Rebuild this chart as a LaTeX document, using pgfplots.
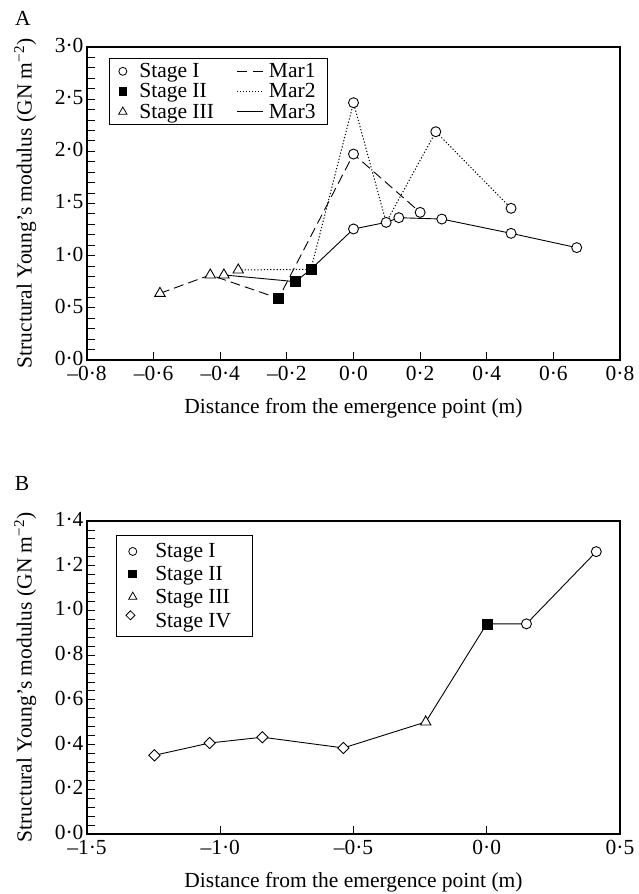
\documentclass[border=0pt]{standalone}
\usepackage{fontspec}
\setmainfont{Liberation Serif}
\usepackage{pgfplots}
\pgfplotsset{compat=1.18}
\newcommand{\fs}{\fontsize{21.5}{25}\selectfont}

\pgfplotsset{
  panel/.style={
    scale only axis, width=533pt, height=313pt,
    axis line style={line width=1.1pt},
    tick align=inside, tick pos=left,
    major tick length=8pt, minor tick length=8pt,
    tick style={line width=0.9pt, black},
    tick label style={font=\fs},
    xticklabel style={yshift=-3pt},
    yticklabel style={yshift=1.5pt},
    label style={font=\fs},
    legend style={font=\fs, draw=black, line width=1pt, inner xsep=3pt, inner ysep=4pt,
      nodes={inner sep=1pt}},
    legend cell align=left,
    xlabel={Distance from the emergence point (m)},
    ylabel={Structural Young’s modulus (GN m\textsuperscript{−2})},
    xlabel style={at={(axis description cs:0.5,-0.153)}, anchor=center},
    ylabel style={at={(axis description cs:-0.116,0.5)}, anchor=center},
    clip=false,
  },
  s1/.style={only marks, mark=*, mark size=5pt, mark options={fill=white, draw=black, line width=0.9pt}},
  s2/.style={only marks, mark=square*, mark size=5pt, mark options={fill=black, draw=black}},
  s3/.style={only marks, mark=triangle*, mark size=6pt, mark options={fill=white, draw=black, line width=0.9pt}},
  s4/.style={only marks, mark=square*, mark size=4pt, mark options={rotate=45, fill=white, draw=black, line width=0.9pt}},
  % marker legend image: mark at #1 from left, cell #2 wide
  mkleg/.style n args={3}{legend image code/.code={\path (0pt,0pt) (#2,0pt);
      \draw[black, #3] plot coordinates {(#1,0pt)};}},
  lnleg/.style={legend image code/.code={\path (-22pt,0pt) (30pt,0pt);
      \draw[black, line width=0.9pt, #1] (0pt,0pt) -- (26pt,0pt);}},
}

\begin{document}
\begin{tikzpicture}
\useasboundingbox (0pt,0pt) rectangle (638pt,-894pt);
\node[font=\fs] at (23pt,-18pt) {A};
\node[font=\fs] at (22pt,-483pt) {B};

% ---- panel A
\begin{axis}[panel,
  at={(87pt,-360pt)}, anchor=south west,
  xmin=-0.8, xmax=0.8, ymin=0, ymax=3,
  xtick={-0.8,-0.6,-0.4,-0.2,0,0.2,0.4,0.6,0.8},
  xticklabels={–0·8,–0·6,–0·4,–0·2,0·0,0·2,0·4,0·6,0·8},
  ytick={0,0.5,1,1.5,2,2.5,3},
  yticklabels={0·0,0·5,1·0,1·5,2·0,2·5,3·0},
  minor y tick num=4,
  legend columns=2,
  legend style={at={(axis description cs:0.041,0.965)}, anchor=north west,
    /tikz/row sep=2.5pt},
]
\addlegendimage{mkleg={10pt}{25pt}{mark=*, mark size=4pt, fill=white, line width=0.8pt}}
\addlegendentry{Stage I}
\addlegendimage{lnleg={dash pattern=on 10pt off 6pt}}
\addlegendentry{Mar1\hspace*{8pt}}
\addlegendimage{mkleg={10pt}{25pt}{mark=square*, mark size=3.8pt, fill=black}}
\addlegendentry{Stage II}
\addlegendimage{lnleg={dash pattern=on 1pt off 2pt}}
\addlegendentry{Mar2}
\addlegendimage{mkleg={10pt}{25pt}{mark=triangle*, mark size=4.8pt, fill=white, line width=0.8pt}}
\addlegendentry{Stage III}
\addlegendimage{lnleg={}}
\addlegendentry{Mar3}

% Mar1 (dashed)
\addplot[forget plot, black, line width=0.9pt, dash pattern=on 10pt off 5pt] coordinates {
  (-0.581,0.639) (-0.430,0.815) (-0.225,0.591) (0,1.974) (0.200,1.415)};
% Mar2 (dotted)
\addplot[forget plot, black, line width=1pt, dash pattern=on 1.2pt off 2pt] coordinates {
  (-0.346,0.863) (-0.128,0.869) (0,2.466) (0.098,1.319) (0.247,2.188) (0.473,1.454)};
% Mar3 (solid)
\addplot[forget plot, black, line width=0.9pt] coordinates {
  (-0.389,0.815) (-0.174,0.751) (-0.128,0.869) (0,1.256) (0.098,1.319)
  (0.136,1.364) (0.265,1.351) (0.473,1.214) (0.670,1.077)};

% stages
\addplot[forget plot, s3] coordinates {
  (-0.581,0.639) (-0.430,0.815) (-0.389,0.815) (-0.346,0.863)};
\addplot[forget plot, s2] coordinates {
  (-0.225,0.591) (-0.174,0.751) (-0.128,0.869)};
\addplot[forget plot, s1] coordinates {
  (0,2.466) (0,1.974) (0,1.256) (0.098,1.319) (0.136,1.364) (0.200,1.415)
  (0.247,2.188) (0.265,1.351) (0.473,1.454) (0.473,1.214) (0.670,1.077)};
\end{axis}

% ---- panel B
\begin{axis}[panel,
  at={(87pt,-834pt)}, anchor=south west,
  xmin=-1.5, xmax=0.5, ymin=0, ymax=1.4,
  xtick={-1.5,-1,-0.5,0,0.5},
  xticklabels={–1·5,–1·0,–0·5,0·0,0·5},
  ytick={0,0.2,0.4,0.6,0.8,1,1.2,1.4},
  yticklabels={0·0,0·2,0·4,0·6,0·8,1·0,1·2,1·4},
  minor y tick num=4,
  legend style={at={(axis description cs:0.054,0.955)}, anchor=north west,
    inner xsep=8pt, inner ysep=7pt, /tikz/row sep=5pt},
]
\addlegendimage{mkleg={8pt}{29pt}{mark=*, mark size=4pt, fill=white, line width=0.8pt}}
\addlegendentry{Stage I}
\addlegendimage{mkleg={8pt}{29pt}{mark=square*, mark size=3.8pt, fill=black}}
\addlegendentry{Stage II}
\addlegendimage{mkleg={8pt}{29pt}{mark=triangle*, mark size=4.8pt, fill=white, line width=0.8pt}}
\addlegendentry{Stage III\hspace*{14pt}}
\addlegendimage{mkleg={8pt}{29pt}{mark=square*, mark size=3.2pt, rotate=45, fill=white, line width=0.8pt}}
\addlegendentry{Stage IV}

\addplot[forget plot, black, line width=0.9pt] coordinates {
  (-1.247,0.352) (-1.040,0.407) (-0.842,0.433) (-0.538,0.385)
  (-0.229,0.501) (0,0.940) (0.149,0.940) (0.411,1.263)};

\addplot[forget plot, s4] coordinates {
  (-1.247,0.352) (-1.040,0.407) (-0.842,0.433) (-0.538,0.385)};
\addplot[forget plot, s3] coordinates {(-0.229,0.501)};
\addplot[forget plot, s2] coordinates {(0,0.940)};
\addplot[forget plot, s1] coordinates {(0.149,0.940) (0.411,1.263)};
\end{axis}
\end{tikzpicture}
\end{document}
